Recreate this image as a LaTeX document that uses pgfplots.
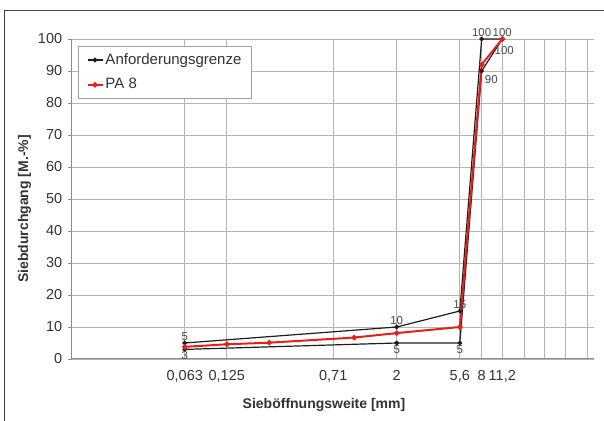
\documentclass[border=0pt]{standalone}
\usepackage{fontspec}
\setmainfont{Liberation Sans}
\usepackage{pgfplots}
\pgfplotsset{compat=1.18}
\definecolor{txt}{HTML}{333333}
\definecolor{lblc}{HTML}{4A4A4A}
\definecolor{gridc}{HTML}{B4B4B4}
\definecolor{axc}{HTML}{8C8C8C}
\definecolor{framec}{HTML}{404040}
\definecolor{blk}{HTML}{1E1E1E}
\definecolor{redc}{HTML}{E5201B}
\definecolor{legc}{HTML}{A0A0A0}
\begin{document}
\fontsize{14bp}{16bp}\selectfont
\begin{tikzpicture}
\useasboundingbox (0bp,0bp) rectangle (604bp,421bp);
\draw[color=framec, line width=1.3bp] (4.5bp,-5bp) -- (4.5bp,410.5bp) -- (610bp,410.5bp);
\begin{axis}[
  at={(72bp,62bp)}, anchor=south west,
  scale only axis, width=522bp, height=320bp,
  xmode=log, xmin=0.01, xmax=50, ymin=0, ymax=100,
  ytick={0,10,...,100},
  xtick={0.063,0.125,0.71,2,5.6,8,11.2,16,22.4,31.5,45},
  xticklabels={0{,}063,0{,}125,0{,}71,2,5{,}6,8,11{,}2,,,,},
  grid=major, major grid style={color=gridc, line width=0.9bp},
  axis x line*=bottom, axis y line*=left,
  axis line style={color=axc, line width=1bp, -},
  x tick style={draw=none},
  y tick style={color=axc, line width=0.8bp},
  tick align=outside, major tick length=4bp,
  tick label style={color=txt, font=\fontsize{14.5bp}{16bp}\selectfont},
  /pgf/number format/assume math mode=true,
  yticklabel style={xshift=-1bp},
  xticklabel style={yshift=-3bp},
  legend style={at={(rel axis cs:0.0115,0.978)}, anchor=north west,
    draw=legc, line width=1bp, fill=white, font=\fontsize{15bp}{17bp}\selectfont,
    text=txt, inner xsep=8bp, inner ysep=5bp, row sep=8bp},
  legend cell align=left,
  legend image code/.code={\draw[mark repeat=2,mark phase=2] plot coordinates {(0bp,0bp) (7.5bp,0bp) (15bp,0bp)};},
  every node near coord/.append style={font=\fontsize{11.5bp}{13bp}\selectfont, color=lblc, inner sep=2bp},
]
% Anforderungsgrenze (upper)
\addplot[color=blk, line width=1.2bp, mark=*, mark size=1.7bp, mark options={fill=blk}] coordinates {
  (0.063,5) (2,10) (5.6,15) (8,100) (11.2,100)};
\addlegendentry{Anforderungsgrenze}
% Anforderungsgrenze (lower)
\addplot[color=blk, line width=1.2bp, mark=*, mark size=1.7bp, mark options={fill=blk}, forget plot] coordinates {
  (0.063,3) (2,5) (5.6,5) (8,90) (11.2,100)};
% PA 8
\addplot[color=redc, line width=2bp, mark=*, mark size=1.6bp, mark options={fill=redc}] coordinates {
  (0.063,3.8) (0.125,4.6) (0.25,5.1) (1,6.7) (2,8.1) (5.6,10) (8,92) (11.2,100)};
\addlegendentry{PA 8}
% labels
\addplot[draw=none, forget plot, nodes near coords, every node near coord/.append style={anchor=south}] coordinates {
  (0.063,5) (2,10) (5.6,15) (8,100) (11.2,100)};
\addplot[draw=none, forget plot, nodes near coords, every node near coord/.append style={anchor=north}] coordinates {
  (0.063,3) (2,5) (5.6,5)};
\addplot[draw=none, forget plot, nodes near coords, every node near coord/.append style={anchor=north west, xshift=1bp, yshift=-2bp}] coordinates {
  (8,90)};
\addplot[draw=none, forget plot, nodes near coords, every node near coord/.append style={anchor=north, xshift=2bp, yshift=-5bp}] coordinates {
  (11.2,100)};
\end{axis}
\node[anchor=base, font=\bfseries\fontsize{14bp}{16bp}\selectfont, text=txt] at (324bp,13bp) {Sieböffnungsweite [mm]};
\node[anchor=base, rotate=90, font=\bfseries\fontsize{14bp}{16bp}\selectfont, text=txt] at (28bp,212bp) {Siebdurchgang [M.-\%]};
\end{tikzpicture}
\end{document}
